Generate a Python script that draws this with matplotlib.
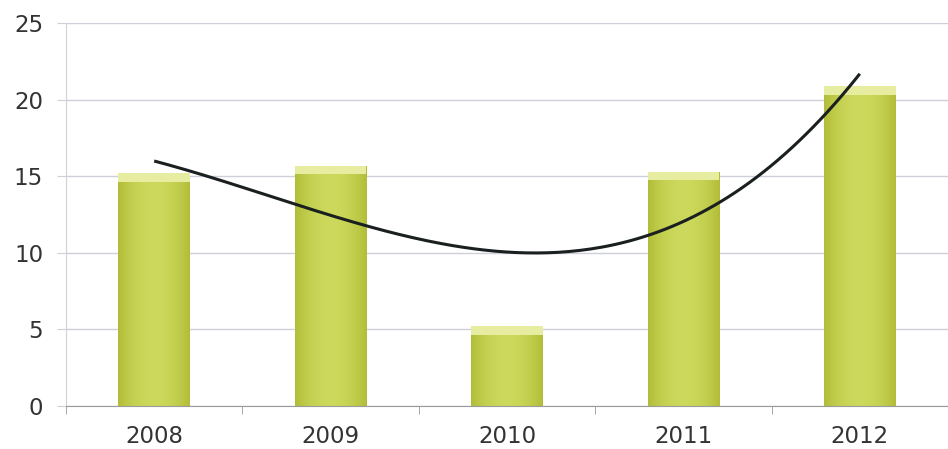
import numpy as np
import matplotlib
matplotlib.use("Agg")
from matplotlib import pyplot as plt

# dados
anos = ["2008", "2009", "2010", "2011", "2012"]
valores = [15.2, 15.7, 5.2, 15.3, 20.9]
yticks = [0, 5, 10, 15, 20, 25]

fig = plt.figure(figsize=(9.48, 4.49), dpi=100)
ax = fig.add_axes([0.0696, 0.0958, 0.9304, 0.852])

x = np.arange(len(anos))
largura = 0.405

# gradiente horizontal para as barras
grad = np.linspace(0, 1, 64)
perfil = 1 - (2 * grad - 1) ** 2
c_borda = np.array([0.70, 0.74, 0.22])
c_meio = np.array([0.80, 0.85, 0.36])
img = c_borda[None, None, :] + (c_meio - c_borda)[None, None, :] * perfil[None, :, None]

barras = ax.bar(x, valores, width=largura, color="#c4d049", edgecolor="none", zorder=2)
for b in barras:
    x0, y0 = b.get_x(), b.get_y()
    w, h = b.get_width(), b.get_height()
    im = ax.imshow(img, extent=[x0, x0 + w, y0, y0 + h], aspect="auto", zorder=2.1)
    im.set_clip_path(b)
    # topo mais claro
    ax.bar(x0 + w / 2, 0.55, bottom=h - 0.55, width=w, color="#e6eda0",
           edgecolor="none", zorder=2.2)

# linha de tendencia polinomial (ordem 3)
coef = np.polyfit(x, valores, 3)
xs = np.linspace(0, len(anos) - 1, 200)
ax.plot(xs, np.polyval(coef, xs), color="#1a1f1f", lw=2.2, zorder=3,
        solid_capstyle="butt")

ax.set_xlim(-0.5, 4.455)
ax.set_ylim(0, 25)
ax.set_yticks(yticks)
ax.set_xticks(x)
ax.set_xticklabels(anos)
ax.set_xticks(np.arange(-0.5, 5, 1), minor=True)

ax.grid(axis="y", color="#cfcfdc", lw=1.0, zorder=0)
ax.tick_params(axis="y", length=6.5, color="#cfcfdc", labelsize=16.5,
               labelcolor="#333333", pad=10)
ax.tick_params(axis="x", which="major", length=0, labelsize=16.5,
               labelcolor="#333333", pad=14)
ax.tick_params(axis="x", which="minor", length=6, color="#999999")

for s in ["top", "right"]:
    ax.spines[s].set_visible(False)
ax.spines["left"].set_color("#d0d0d8")
ax.spines["bottom"].set_color("#9a9a9a")

fig.savefig("out.png", dpi=100)
